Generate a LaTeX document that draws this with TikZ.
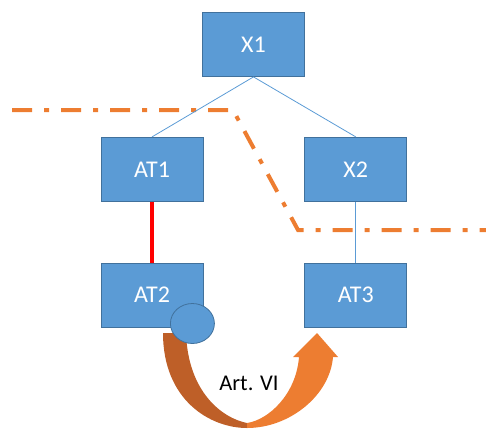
\documentclass[tikz,border=0pt]{standalone}
\usepackage{fontspec}
\setmainfont{Carlito}
\usepackage{xcolor}
\usepackage{tikz}
\usetikzlibrary{positioning, shapes.geometric}

\definecolor{boxblue}{HTML}{5B9BD5}
\definecolor{boxedge}{HTML}{41719C}
\definecolor{cutorange}{HTML}{ED7D31}
\definecolor{arrowbrown}{HTML}{BE5F28}

\begin{document}
\begin{tikzpicture}[
    x=1pt, y=-1pt,
    font=\fontsize{24}{28}\selectfont,
    entity/.style={draw=boxedge, fill=boxblue, line width=0.8pt, text=white,
        minimum width=102pt, minimum height=64pt, inner sep=0pt},
    link/.style={draw=boxblue, line width=0.8pt},
    hardlink/.style={draw=red, line width=4pt},
    cut/.style={draw=cutorange, line width=4pt,
        dash pattern=on 20pt off 12pt on 5pt off 12pt}
]
\useasboundingbox (0,0) rectangle (486,428);

% --- Cut line ---
\draw[cut] (12,110) -- (233,110) -- (298,230) -- (486,230);

% --- Blocks ---
\node[entity] (x1) at (253.5,44.5) {X1};
\node[entity, below=60pt of x1, xshift=-101.5pt] (at1) {AT1};
\node[entity, right=101pt of at1] (x2) {X2};
\node[entity, below=61pt of at1] (at2) {AT2};
\node[entity, below=61pt of x2] (at3) {AT3};

% --- Links ---
\draw[link] (x1.south) -- (at1.north);
\draw[link] (x1.south) -- (x2.north);
\draw[link] (x2.south) -- (at3.north);
\draw[hardlink] (at1.south) -- (at2.south |- at2.north);

% --- Curved arrow ---
\fill[arrowbrown] (163,333) .. controls (163,400) and (210,428) .. (247,428)
    -- (247,423) .. controls (222,418) and (188,392) .. (186,333) -- cycle;
\fill[cutorange] (247,428) .. controls (290,428) and (330,395) .. (333,357)
    -- (338,357) -- (317,333) -- (293,357) -- (299,357)
    .. controls (296,395) and (268,420) .. (247,423) -- cycle;
\node[text=black, font=\fontsize{22.5}{26}\selectfont] (art) at (249,383) {Art. VI};

% --- Handle ---
\node[ellipse, draw=boxedge, fill=boxblue, line width=0.8pt,
    minimum width=44pt, minimum height=40pt, inner sep=0pt]
    (knob) at ([xshift=-11pt, yshift=4pt]at2.south east) {};

\end{tikzpicture}
\end{document}
